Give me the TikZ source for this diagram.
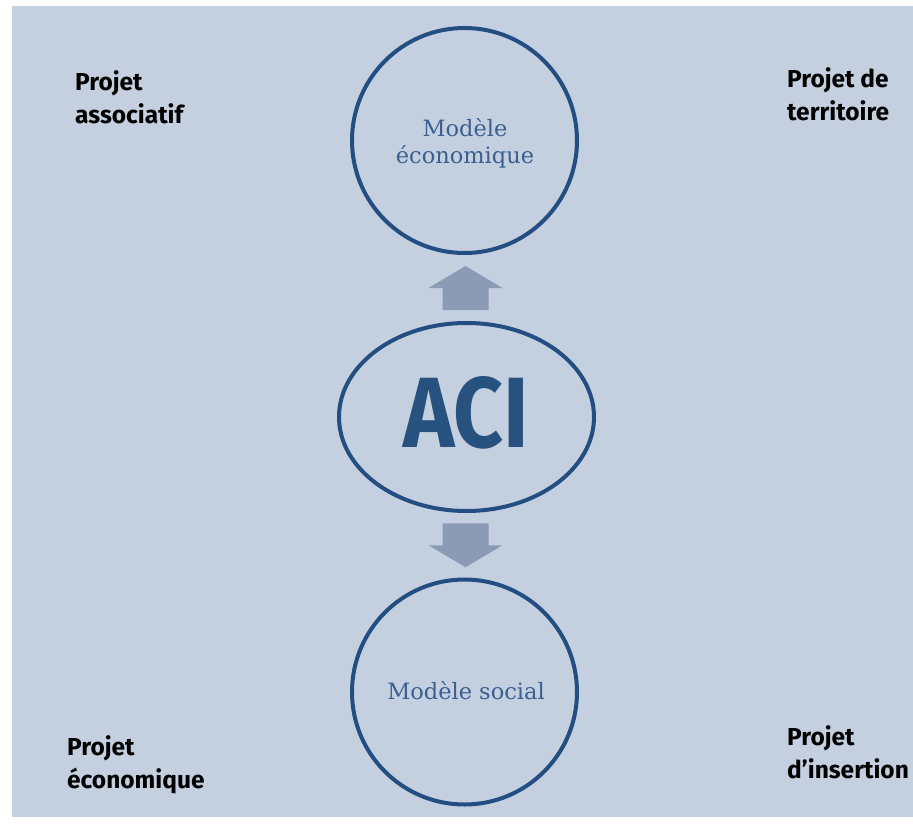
\documentclass[tikz,border=0pt]{standalone}
\usepackage{fontspec}
\setmainfont{DejaVu Serif}
\newfontfamily\labfont{Fira Sans}
\usetikzlibrary{shapes.geometric,calc}
\definecolor{bgc}{HTML}{C4D0E0}
\definecolor{ringc}{HTML}{234E81}
\definecolor{acic}{HTML}{27517F}
\definecolor{txtc}{HTML}{3B5F90}
\definecolor{arrc}{HTML}{8B9BB5}
\tikzset{
  ring/.style={circle,draw=ringc,line width=4pt,minimum size=225pt,inner sep=0pt,
    text=txtc,font=\fontsize{22.5}{26.5}\selectfont,align=center},
  aciring/.style={ellipse,draw=ringc,line width=4pt,minimum width=255pt,minimum height=188pt,inner sep=0pt},
  corner/.style={anchor=base west,inner sep=0pt,align=left,
    font=\labfont\bfseries\fontsize{24.5}{33}\selectfont,text=black},
  blockarrow/.style={fill=arrc,draw=none}
}
\begin{document}
\begin{tikzpicture}[x=1pt,y=-1pt]
\useasboundingbox (0,0) rectangle (913,827);
\fill[bgc] (12,6) rectangle (913,817);
\node[ring] (top) at (464.5,140.5) {};
\node[text=txtc,font=\fontsize{22.5}{26.5}\selectfont,align=center,anchor=base] (toptxt) at (465,163) {Modèle\\économique};
\node[aciring] (aci) at (466.5,417) {};
\node[text=acic,font=\labfont\bfseries\fontsize{100}{100}\selectfont,xscale=0.87,inner sep=0pt] (acitxt) at (466,413) {ACI};
\node[ring] (bot) at (464.5,692) {};
\node[text=txtc,font=\fontsize{22.5}{26.5}\selectfont,anchor=base] (bottxt) at (466,699) {Modèle social};
\coordinate (mup) at ($(top.south)!0.5!(aci.north)$);
\coordinate (mdn) at ($(aci.south)!0.5!(bot.north)$);
\fill[blockarrow] (mup) ++(0,-22) -- ++(37,22) -- ++(-14,0) -- ++(0,22) -- ++(-46,0) -- ++(0,-22) -- ++(-14,0) -- cycle;
\fill[blockarrow] (mdn) ++(0,22) -- ++(37,-22) -- ++(-14,0) -- ++(0,-22) -- ++(-46,0) -- ++(0,22) -- ++(-14,0) -- cycle;
\node[corner] (pa) at (75,123) {Projet\\associatif};
\node[corner] (pt) at (787,120) {Projet de\\territoire};
\node[corner] (pe) at (67,788) {Projet\\économique};
\node[corner] (pi) at (787,778) {Projet\\d’insertion};
\end{tikzpicture}
\end{document}
